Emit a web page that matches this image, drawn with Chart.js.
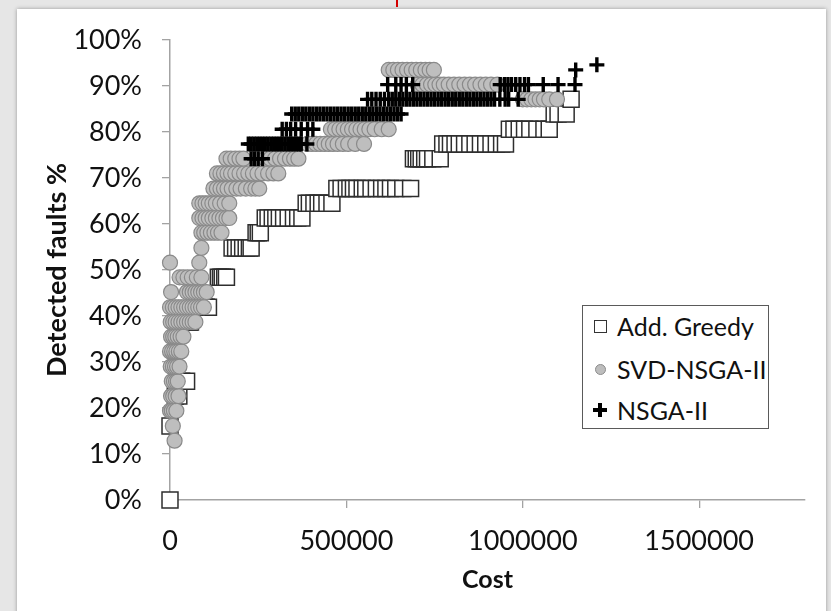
<!DOCTYPE html>
<html>
<head>
<meta charset="utf-8">
<script src="https://cdn.jsdelivr.net/npm/chart.js@4.4.1/dist/chart.umd.min.js"></script>
<style>
html,body{margin:0;padding:0;width:831px;height:611px;overflow:hidden;background:#e6e6e6;}
#card{position:absolute;left:17px;top:9px;width:809px;height:620px;background:#fff;box-shadow:0 0 4px rgba(0,0,0,0.35);}
#red{position:absolute;left:396px;top:0;width:2px;height:7px;background:#d40000;}
#chart{position:absolute;left:0;top:0;}
#legend{position:absolute;left:582px;top:305px;width:185px;height:122px;border:1px solid #5a5a5a;background:#fff;font-family:Lato,"Open Sans",sans-serif;font-size:25px;color:#111;}
.row{position:absolute;left:0;height:30px;line-height:30px;white-space:nowrap;}
.row span.t{position:absolute;left:34px;top:0;}
.mk{position:absolute;}
.sq{left:11px;top:9px;width:11px;height:11px;border:1px solid #333;background:#fff;}
.ci{left:12px;top:10px;width:9px;height:9px;border-radius:50%;background:#bdbdbd;border:1px solid #8c8c8c;}
.pl{left:10px;top:8px;width:14px;height:14px;}
.pl:before{content:"";position:absolute;left:5px;top:0;width:3.5px;height:14px;background:#000;}
.pl:after{content:"";position:absolute;left:0;top:5px;width:14px;height:3.5px;background:#000;}
</style>
</head>
<body>
<div id="card"></div>
<div id="red"></div>
<canvas id="chart" width="831" height="611"></canvas>
<div id="legend">
  <div class="row" style="top:5px"><div class="mk sq"></div><span class="t">Add. Greedy</span></div>
  <div class="row" style="top:48px"><div class="mk ci"></div><span class="t">SVD-NSGA-II</span></div>
  <div class="row" style="top:89px"><div class="mk pl"></div><span class="t">NSGA-II</span></div>
</div>
<script>
// ---- Data (cost values in thousands, grouped by detected-fault level in %) ----
const seriesNames = ['Add. Greedy', 'SVD-NSGA-II', 'NSGA-II'];
const xTickValues = [0, 500000, 1000000, 1500000];
const yTickValues = [0, 10, 20, 30, 40, 50, 60, 70, 80, 90, 100];

const greedyLevels = [0, 16.1, 22.6, 25.8, 38.7, 41.9, 48.4, 54.8, 58.1, 61.3, 64.5, 67.7, 74.2, 77.4, 80.6, 83.9, 87.1];
const greedyCosts = [
  [0],
  [0],
  [15, 25],
  [33, 47],
  [55, 58],
  [92, 98, 103, 109],
  [137, 143, 148, 155, 160],
  [176, 186, 196, 206, 216, 225, 230],
  [244, 250, 256],
  [270, 278, 290, 300, 310, 322, 335, 350, 362, 374],
  [386, 395, 408, 420, 430, 445, 459],
  [473, 485, 500, 510, 520, 530, 545, 555, 570, 585, 600, 612, 625, 640, 660, 682],
  [690, 698, 705, 712, 722, 730, 745, 766],
  [773, 785, 795, 808, 820, 835, 850, 865, 880, 895, 910, 925, 940, 951],
  [962, 975, 990, 1005, 1020, 1040, 1060, 1075],
  [1089, 1100, 1123],
  [1137]
];

const svdLevels = [12.9, 16.1, 19.4, 22.6, 25.8, 29.0, 32.3, 35.5, 38.7, 41.9, 45.2, 48.4, 51.6, 54.8, 58.1, 61.3, 64.5, 67.7, 71.0, 74.2, 77.4, 80.6, 87.1, 90.3, 93.5];
const svdCosts = [
  [13],
  [8],
  [0, 5, 11, 18],
  [3, 9, 16, 24],
  [5, 11, 17, 22],
  [2, 8, 14, 20, 27],
  [0, 6, 12, 18, 25, 32],
  [3, 9, 15, 22, 30, 38],
  [2, 9, 16, 24, 32, 40, 48, 56, 64, 72],
  [0, 8, 16, 24, 32, 40, 48, 56, 64, 72, 80, 88, 96],
  [3, 48, 56, 64, 72, 80, 88, 96, 104],
  [27, 38, 50, 62, 76, 89],
  [0, 83],
  [89],
  [89, 97, 106, 116, 126, 136, 146],
  [83, 92, 101, 110, 120, 130, 140, 150, 160, 168],
  [83, 92, 101, 110, 120, 130, 142, 155, 168],
  [123, 133, 143, 153, 163, 175, 188, 200, 215, 230, 242, 253],
  [133, 143, 153, 163, 173, 185, 197, 210, 222, 235, 248, 262, 278, 293, 307],
  [160, 172, 185, 197, 208, 270, 284, 298, 312, 326, 340, 352, 364],
  [390, 402, 414, 426, 438, 450, 462, 475, 490, 505, 525, 550],
  [456, 468, 480, 492, 504, 516, 528, 540, 552, 565, 580, 600, 620],
  [1000, 1012, 1024, 1036, 1048, 1060, 1075, 1097],
  [702, 715, 728, 740, 752, 764, 776, 790, 805, 820, 835, 850, 865, 880, 895, 910, 928],
  [620, 633, 646, 659, 672, 685, 698, 711, 724, 736, 748]
];

const nsgaLevels = [74.2, 77.4, 80.6, 83.9, 87.1, 90.3, 93.5, 94.6];
const nsgaCosts = [
  [230, 240, 250, 262],
  [222, 230, 238, 246, 254, 262, 270, 278, 286, 294, 302, 310, 318, 326, 334, 342, 350, 358, 366, 372, 388],
  [318, 330, 342, 356, 372, 390, 405],
  [345, 355, 365, 375, 385, 395, 405, 415, 425, 435, 445, 455, 465, 475, 485, 495, 505, 515, 525, 535, 545, 555, 565, 575, 585, 595, 605, 615, 625, 635, 645, 655],
  [560, 572, 584, 596, 608, 620, 630, 640, 650, 660, 670, 680, 690, 700, 710, 720, 730, 740, 750, 760, 770, 780, 790, 800, 810, 820, 830, 840, 850, 860, 870, 880, 890, 900, 910, 920, 935, 950, 960, 987],
  [617, 640, 655, 670, 688, 936, 948, 958, 968, 980, 992, 1005, 1016, 1058, 1100, 1148],
  [1150],
  [1210]
];

function toPoints(levels, costs) {
  const pts = [];
  levels.forEach((lv, i) => costs[i].forEach(c => pts.push({x: c * 1000, y: lv})));
  return pts;
}

const FONT = 'Lato, "Open Sans", sans-serif';
const AXIS = '#a3a3a3';

new Chart(document.getElementById('chart'), {
  type: 'scatter',
  data: {
    datasets: [
      {
        label: seriesNames[0], data: toPoints(greedyLevels, greedyCosts), order: 3,
        pointStyle: 'rect', pointRadius: 11.3, backgroundColor: '#ffffff',
        borderColor: '#2e2e2e', borderWidth: 1.5, clip: false
      },
      {
        label: seriesNames[1], data: toPoints(svdLevels, svdCosts), order: 2,
        pointStyle: 'circle', pointRadius: 7.5, backgroundColor: '#bebebe',
        borderColor: '#8a8a8a', borderWidth: 1.2, clip: false
      },
      {
        label: seriesNames[2], data: toPoints(nsgaLevels, nsgaCosts), order: 1,
        pointStyle: 'cross', pointRadius: 7.5, backgroundColor: '#000',
        borderColor: '#000000', borderWidth: 3.4, clip: false
      }
    ]
  },
  options: {
    responsive: false,
    animation: false,
    events: [],
    devicePixelRatio: 1,
    layout: {padding: {top: 40, right: 26, bottom: 0, left: 0}},
    plugins: {legend: {display: false}, tooltip: {enabled: false}},
    scales: {
      x: {
        type: 'linear', min: 0, max: 1800000,
        afterFit: s => { s.height = 111; },
        afterBuildTicks: s => { s.ticks = xTickValues.map(v => ({value: v})); },
        ticks: {
          stepSize: 500000, includeBounds: false, autoSkip: false, maxRotation: 0,
          padding: 17, color: '#111', font: {family: FONT, size: 27},
          callback: v => String(v)
        },
        grid: {drawOnChartArea: false, drawTicks: true, tickLength: 8, color: AXIS, lineWidth: 1.3},
        border: {display: true, color: AXIS, width: 1.5},
        title: {display: true, text: 'Cost', color: '#111',
          font: {family: FONT, size: 25, weight: 'bold'}, padding: {top: 0, bottom: 16}}
      },
      y: {
        type: 'linear', min: 0, max: 100,
        afterFit: s => { s.width = 170; },
        afterBuildTicks: s => { s.ticks = yTickValues.map(v => ({value: v})); },
        ticks: {
          stepSize: 10, autoSkip: false, padding: 20, color: '#111',
          font: {family: FONT, size: 27}, callback: v => v + '%'
        },
        grid: {drawOnChartArea: false, drawTicks: true, tickLength: 8, color: AXIS, lineWidth: 1.3},
        border: {display: true, color: AXIS, width: 1.5},
        title: {display: true, text: 'Detected faults %', color: '#111',
          font: {family: FONT, size: 27, weight: 'bold'}, padding: {top: 41, bottom: 0}}
      }
    }
  }
});
</script>
</body>
</html>
